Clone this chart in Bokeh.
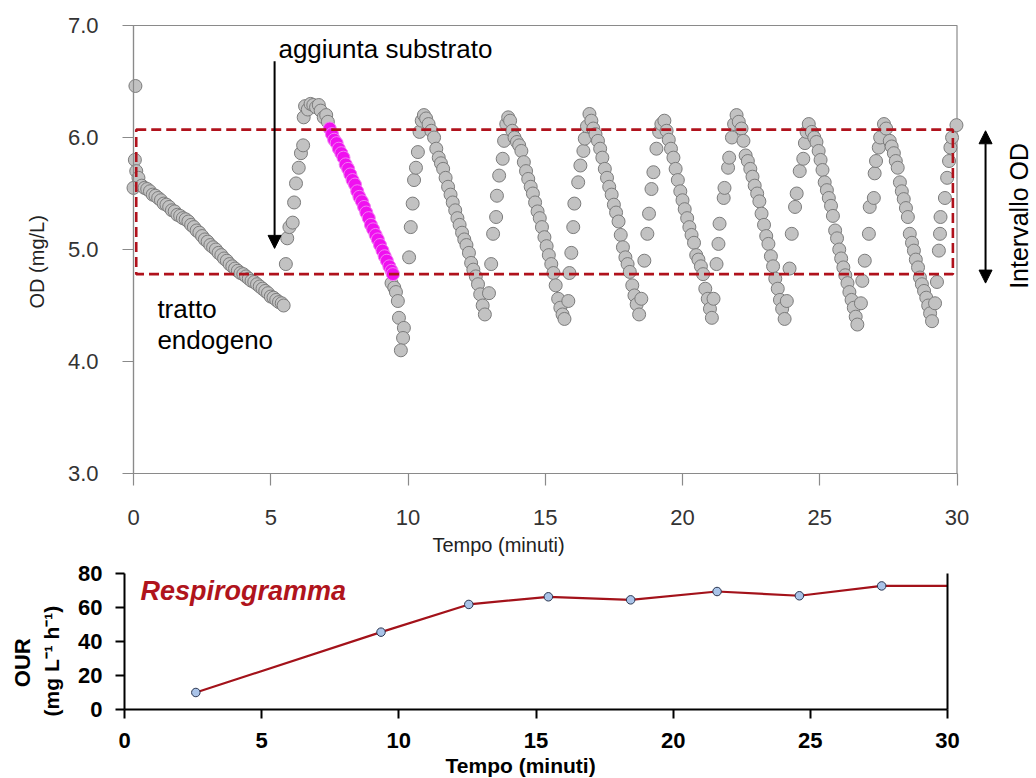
import math
from bokeh.plotting import figure
from bokeh.layouts import column
from bokeh.models import Range1d, FixedTicker, PrintfTickFormatter, Label, Arrow, NormalHead, LinearAxis
from bokeh.embed import file_html
from bokeh.resources import INLINE

# ------------------------------------------------------------------ data
od_ticks = [3, 4, 5, 6, 7]
time_ticks = [0, 5, 10, 15, 20, 25, 30]
our_ticks = [0, 20, 40, 60, 80]

# initial readings
start_t = [0.07, 0.05, 0.10, 0.18, 0.00]
start_v = [6.46, 5.80, 5.70, 5.64, 5.55]
# endogenous stretch
endo_t = [0.30, 0.40, 0.50, 0.60, 0.70, 0.80, 0.90, 1.00, 1.10, 1.20, 1.30, 1.40, 1.50, 1.60, 1.70,
          1.80, 1.90, 2.00, 2.10, 2.20, 2.30, 2.40, 2.50, 2.60, 2.70, 2.80, 2.90, 3.00, 3.10, 3.20,
          3.30, 3.40, 3.50, 3.60, 3.70, 3.80, 3.90, 4.00, 4.10, 4.20, 4.30, 4.40, 4.50, 4.60, 4.70,
          4.80, 4.90, 5.00, 5.10, 5.20, 5.30, 5.40, 5.47]
endo_v = [5.57, 5.55, 5.54, 5.52, 5.49, 5.48, 5.46, 5.44, 5.41, 5.40, 5.38, 5.35, 5.34, 5.31, 5.30,
          5.28, 5.27, 5.25, 5.22, 5.20, 5.17, 5.15, 5.12, 5.09, 5.07, 5.04, 5.02, 5.00, 4.97, 4.95,
          4.92, 4.90, 4.87, 4.85, 4.83, 4.81, 4.79, 4.78, 4.76, 4.74, 4.72, 4.71, 4.69, 4.67, 4.65,
          4.63, 4.61, 4.58, 4.57, 4.55, 4.53, 4.52, 4.50]
# first cycle after substrate addition
c1_t = [5.55, 5.60, 5.68, 5.80, 5.85, 5.92, 6.02, 6.10, 6.18,
        6.20, 6.25, 6.35, 6.45, 6.55, 6.65, 6.75, 6.82, 6.93, 7.02, 7.08]
c1_v = [4.87, 5.10, 5.20, 5.24, 5.42, 5.59, 5.73, 5.86, 5.93,
        6.18, 6.28, 6.25, 6.30, 6.29, 6.27, 6.29, 6.24, 6.18, 6.20, 6.14]
# highlighted slope (OUR evaluation)
highlight_t = [7.15, 7.23, 7.31, 7.40, 7.48, 7.57, 7.65, 7.73, 7.82, 7.90, 7.98, 8.07, 8.15, 8.23, 8.32,
               8.40, 8.48, 8.57, 8.65, 8.73, 8.82, 8.90, 8.98, 9.07, 9.15, 9.23, 9.32, 9.40, 9.45]
highlight_v = [6.08, 6.03, 5.98, 5.95, 5.90, 5.86, 5.82, 5.76, 5.72, 5.67, 5.62, 5.58, 5.52, 5.47, 5.43,
               5.38, 5.33, 5.28, 5.22, 5.18, 5.13, 5.09, 5.04, 4.99, 4.94, 4.90, 4.85, 4.81, 4.78]
tail1_t = [9.40, 9.50, 9.56, 9.63, 9.67, 9.85, 9.82, 9.74]
tail1_v = [4.70, 4.66, 4.62, 4.54, 4.39, 4.30, 4.21, 4.10]
# cycle 2
c2_t = [10.04, 10.10, 10.17, 10.22, 10.29, 10.36, 10.42, 10.50, 10.58, 10.66, 10.75, 10.85,
        10.95, 11.03, 11.12, 11.20, 11.28, 11.37, 11.46, 11.55, 11.63, 11.72, 11.80, 11.88,
        11.97, 12.05, 12.13, 12.22, 12.30, 12.38, 12.47, 12.55, 12.63, 12.72, 12.80]
c2_v = [4.93, 5.20, 5.41, 5.62, 5.73, 5.87, 6.05, 6.15, 6.20, 6.17, 6.12, 6.06,
        6.00, 5.90, 5.82, 5.77, 5.72, 5.64, 5.56, 5.49, 5.42, 5.35, 5.28, 5.22,
        5.15, 5.09, 5.04, 4.97, 4.88, 4.82, 4.76, 4.69, 4.60, 4.50, 4.42]
# cycle 3
c3_t = [12.95, 13.03, 13.10, 13.21, 13.24, 13.32, 13.45, 13.50, 13.58, 13.65, 13.72, 13.80,
        13.88, 13.97, 14.05, 14.13, 14.22, 14.30, 14.38, 14.47, 14.55, 14.63, 14.72, 14.80,
        14.88, 14.97, 15.05, 15.13, 15.22, 15.30, 15.38, 15.47, 15.55, 15.63, 15.70]
c3_v = [4.61, 4.87, 5.14, 5.29, 5.48, 5.66, 5.81, 5.97, 6.12, 6.18, 6.15, 6.06,
        6.00, 5.96, 5.93, 5.88, 5.78, 5.70, 5.63, 5.56, 5.50, 5.42, 5.34, 5.28,
        5.20, 5.11, 5.03, 4.95, 4.87, 4.79, 4.68, 4.56, 4.48, 4.42, 4.38]
# cycle 4
c4_t = [15.84, 15.88, 15.95, 16.02, 16.06, 16.20, 16.28, 16.39, 16.44, 16.52, 16.61, 16.68, 16.75,
        16.83, 16.92, 17.00, 17.08, 17.17, 17.25, 17.33, 17.42, 17.50, 17.58, 17.67, 17.75,
        17.83, 17.92, 18.00, 18.08, 18.17, 18.25, 18.33, 18.42]
c4_v = [4.54, 4.79, 4.97, 5.20, 5.41, 5.60, 5.75, 5.88, 5.99, 6.10, 6.21, 6.15, 6.08,
        6.03, 5.97, 5.90, 5.82, 5.72, 5.64, 5.56, 5.49, 5.40, 5.33, 5.25, 5.13,
        5.02, 4.93, 4.87, 4.80, 4.68, 4.59, 4.51, 4.42]
# cycle 5
c5_t = [18.50, 18.61, 18.72, 18.78, 18.87, 18.94, 19.05, 19.15, 19.23, 19.34, 19.42,
        19.50, 19.58, 19.67, 19.75, 19.83, 19.92, 20.00, 20.08, 20.17, 20.25, 20.33, 20.42,
        20.50, 20.58, 20.67, 20.75, 20.83, 20.92, 21.00, 21.07]
c5_v = [4.56, 4.90, 5.14, 5.32, 5.54, 5.69, 5.90, 6.05, 6.12, 6.15, 6.06,
        5.98, 5.90, 5.82, 5.72, 5.62, 5.52, 5.44, 5.36, 5.28, 5.20, 5.13, 5.06,
        4.95, 4.91, 4.85, 4.78, 4.65, 4.56, 4.47, 4.39]
# cycle 6
c6_t = [21.13, 21.24, 21.31, 21.35, 21.50, 21.53, 21.66, 21.70, 21.80, 21.88, 21.97, 22.05, 22.15,
        22.22, 22.30, 22.38, 22.47, 22.55, 22.63, 22.72, 22.80, 22.88, 22.97, 23.05, 23.13,
        23.22, 23.30, 23.38, 23.47, 23.55, 23.63, 23.72]
c6_v = [4.56, 4.87, 5.05, 5.23, 5.46, 5.55, 5.73, 5.82, 6.00, 6.12, 6.20, 6.14, 6.08,
        5.97, 5.84, 5.79, 5.72, 5.65, 5.57, 5.50, 5.43, 5.32, 5.22, 5.12, 5.05,
        4.94, 4.85, 4.74, 4.65, 4.55, 4.47, 4.38]
# cycle 7
c7_t = [23.80, 23.90, 23.98, 24.10, 24.16, 24.27, 24.40, 24.46, 24.52, 24.60, 24.71, 24.80,
        24.88, 24.96, 25.03, 25.10, 25.18, 25.26, 25.33, 25.41, 25.48, 25.56, 25.63, 25.71,
        25.78, 25.86, 25.93, 26.01, 26.08, 26.16, 26.24, 26.31, 26.37]
c7_v = [4.54, 4.83, 5.14, 5.38, 5.50, 5.70, 5.81, 5.95, 6.05, 6.12, 6.05, 6.00,
        5.96, 5.88, 5.80, 5.71, 5.60, 5.53, 5.46, 5.39, 5.30, 5.17, 5.10, 5.00,
        4.92, 4.84, 4.77, 4.70, 4.62, 4.55, 4.48, 4.40, 4.33]
# cycle 8
c8_t = [26.50, 26.55, 26.64, 26.79, 26.82, 26.97, 27.00, 27.05, 27.15, 27.20, 27.34, 27.42, 27.55,
        27.62, 27.70, 27.77, 27.84, 27.92, 27.99, 28.06, 28.14, 28.21, 28.28, 28.36, 28.43,
        28.50, 28.58, 28.65, 28.72, 28.80, 28.88, 28.95, 29.02, 29.09]
c8_v = [4.52, 4.72, 4.90, 5.14, 5.38, 5.46, 5.68, 5.79, 5.91, 6.00, 6.12, 6.08, 5.97,
        5.92, 5.86, 5.79, 5.73, 5.60, 5.52, 5.45, 5.37, 5.29, 5.14, 5.06, 4.99,
        4.91, 4.84, 4.75, 4.69, 4.63, 4.57, 4.50, 4.43, 4.36]
# final rise
c9_t = [29.20, 29.27, 29.34, 29.38, 29.40, 29.56, 29.64, 29.71, 29.76, 29.82, 29.98]
c9_v = [4.52, 4.71, 4.99, 5.14, 5.29, 5.46, 5.64, 5.79, 5.91, 6.00, 6.11]

od_band_low, od_band_high = 4.78, 6.07
od_band_start, od_band_end = 0.10, 29.85
substrate_time, substrate_from, substrate_to = 5.14, 6.68, 5.01
interval_arrow_time = 31.04
interval_arrow_top, interval_arrow_bottom = 6.06, 4.70

# respirogram
our_time = [2.60, 9.35, 12.55, 15.45, 18.45, 21.60, 24.60, 27.60]
our_value = [10.0, 45.5, 61.8, 66.3, 64.5, 69.4, 66.9, 72.7]
our_end_time, our_end_value = 30.0, 72.7

T_MIN, T_MAX = 0, 30
OD_MIN, OD_MAX = 3.0, 7.0
OUR_MIN, OUR_MAX = 0, 80

segments_t = [start_t, endo_t, c1_t, tail1_t, c2_t, c3_t, c4_t, c5_t, c6_t, c7_t, c8_t, c9_t]
segments_v = [start_v, endo_v, c1_v, tail1_v, c2_v, c3_v, c4_v, c5_v, c6_v, c7_v, c8_v, c9_v]
od_time, od_value = [], []
for a, b in zip(segments_t, segments_v):
    assert len(a) == len(b), (len(a), len(b))
    od_time += a
    od_value += b
assert len(highlight_t) == len(highlight_v)

FONT = "Liberation Sans"
GRAY_AX = "#8a8a8a"
TXT = "#222222"
W = 1036
TOP_H = 560
BOT_H = 778 - TOP_H


def lab(fig, x, y, text, size, color=TXT, style="normal", align="left", angle=0.0):
    fig.add_layout(Label(x=x, y=y, text=text, text_font=FONT, text_font_size=size,
                         text_color=color, text_font_style=style, text_align=align,
                         text_baseline="middle", angle=angle))


def style_axis(ax, ticks, color, width, size, bold, standoff, tick_out):
    ax.ticker = FixedTicker(ticks=ticks)
    ax.axis_line_color = color
    ax.axis_line_width = width
    ax.major_tick_in = 0
    ax.major_tick_out = tick_out
    ax.major_tick_line_color = color
    ax.major_tick_line_width = width
    ax.minor_tick_line_color = None
    ax.major_label_standoff = standoff
    ax.major_label_text_font = FONT
    ax.major_label_text_font_size = size
    ax.major_label_text_font_style = "bold" if bold else "normal"
    ax.major_label_text_color = "black" if bold else "#333333"


# ------------------------------------------------------------------ top chart (frame = whole canvas)
x0_px, px_per_min = 133.0, 27.45
y7_px, px_per_od = 25.0, 112.0

top = figure(width=W, height=TOP_H, output_backend="svg", toolbar_location=None, title=None,
             x_range=Range1d(-x0_px / px_per_min, (W - x0_px) / px_per_min),
             y_range=Range1d(OD_MAX - (TOP_H - y7_px) / px_per_od, OD_MAX + y7_px / px_per_od),
             x_axis_location=None, y_axis_location=None, min_border=0,
             outline_line_color=None, background_fill_color="white", border_fill_color="white")
top.xgrid.grid_line_color = None
top.ygrid.grid_line_color = None

xa = LinearAxis(fixed_location=OD_MIN, bounds=(T_MIN, T_MAX))
style_axis(xa, time_ticks, GRAY_AX, 1.2, "22px", False, 24, 12)
top.add_layout(xa, "below")
ya = LinearAxis(fixed_location=T_MIN, bounds=(OD_MIN, OD_MAX), formatter=PrintfTickFormatter(format="%.1f"))
style_axis(ya, od_ticks, GRAY_AX, 1.2, "22px", False, 24, 11)
top.add_layout(ya, "left")

# plot frame box
top.quad(left=[T_MIN], right=[T_MAX], bottom=[OD_MIN], top=[OD_MAX],
         fill_color=None, line_color=GRAY_AX, line_width=1.2)

top.scatter(od_time, od_value, marker="circle", size=13,
            fill_color="#c2c2c2", line_color="#7c7c7c", line_width=1)
top.scatter(highlight_t, highlight_v, marker="circle", size=13,
            fill_color="#f010f0", line_color="#f27ff2", line_width=1)

top.quad(left=[od_band_start], right=[od_band_end], bottom=[od_band_low], top=[od_band_high],
         fill_color=None, line_color="#b0121c", line_width=2.6, line_dash="10 5")

top.add_layout(Arrow(end=NormalHead(size=13, fill_color="black", line_color="black"),
                     x_start=substrate_time, y_start=substrate_from,
                     x_end=substrate_time, y_end=substrate_to,
                     line_color="black", line_width=2))
top.add_layout(Arrow(start=NormalHead(size=13, fill_color="black", line_color="black"),
                     end=NormalHead(size=13, fill_color="black", line_color="black"),
                     x_start=interval_arrow_time, y_start=interval_arrow_top,
                     x_end=interval_arrow_time, y_end=interval_arrow_bottom,
                     line_color="black", line_width=2))

lab(top, 5.28, 6.79, "aggiunta substrato", "26px", color="black")
lab(top, 0.87, 4.47, "tratto", "26px", color="black")
lab(top, 0.87, 4.19, "endogeno", "26px", color="black")
lab(top, 32.26, 5.30, "Intervallo OD", "25px", color="black", align="center", angle=math.pi / 2)
lab(top, -3.50, 4.89, "OD (mg/L)", "20px", align="center", angle=math.pi / 2)
lab(top, 13.30, 2.36, "Tempo (minuti)", "20px", align="center")

# ------------------------------------------------------------------ bottom chart (frame = whole canvas)
bx0_px, b_px_per_min = 124.0, 823.0 / 30.0
by0_px, b_px_per_our = 709.0 - TOP_H, 1.7

bot = figure(width=W, height=BOT_H, output_backend="svg", toolbar_location=None, title=None,
             x_range=Range1d(-bx0_px / b_px_per_min, (W - bx0_px) / b_px_per_min),
             y_range=Range1d(-(BOT_H - by0_px) / b_px_per_our, by0_px / b_px_per_our),
             x_axis_location=None, y_axis_location=None, min_border=0,
             outline_line_color=None, background_fill_color="white", border_fill_color="white")
bot.xgrid.grid_line_color = None
bot.ygrid.grid_line_color = None

bxa = LinearAxis(fixed_location=OUR_MIN, bounds=(T_MIN, T_MAX))
style_axis(bxa, time_ticks, "black", 2, "22px", True, 14, 9)
bot.add_layout(bxa, "below")
bya = LinearAxis(fixed_location=T_MIN, bounds=(OUR_MIN, OUR_MAX))
style_axis(bya, our_ticks, "black", 2, "22px", True, 13, 9)
bot.add_layout(bya, "left")
bra = LinearAxis(fixed_location=T_MAX, bounds=(OUR_MIN, OUR_MAX), ticker=FixedTicker(ticks=[]),
                 axis_line_color="black", axis_line_width=2,
                 major_tick_line_color=None, minor_tick_line_color=None)
bot.add_layout(bra, "right")

bot.line(our_time + [our_end_time], our_value + [our_end_value], line_color="#a3121a", line_width=2.2)
bot.scatter(our_time, our_value, marker="circle", size=8.5,
            fill_color="#a9c3e8", line_color="#2a3550", line_width=1)

lab(bot, 0.58, 70.0, "Respirogramma", "27px", color="#b0141c", style="bold italic")
lab(bot, -3.72, 27.5, "OUR", "22px", color="black", style="bold", align="center", angle=math.pi / 2)
lab(bot, -2.66, 28.5, "(mg L\u207b\u00b9 h\u207b\u00b9)", "21px", color="black", style="bold",
    align="center", angle=math.pi / 2)
lab(bot, 14.44, -32.9, "Tempo (minuti)", "21px", color="black", style="bold", align="center")

layout = column(top, bot)
open("out.html", "w").write(file_html(layout, INLINE))
